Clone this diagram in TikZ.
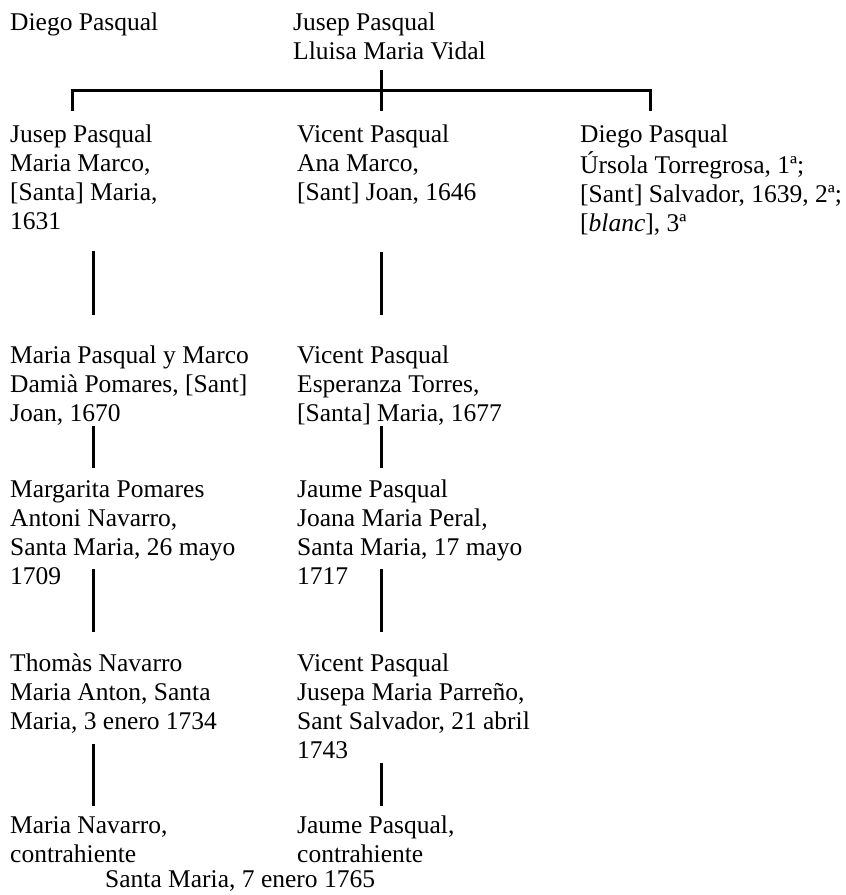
\documentclass[tikz,border=0pt]{standalone}
\usepackage{fontspec}
\setmainfont{Liberation Serif}
\newcommand{\persfont}{\fontsize{25.5}{29}\selectfont}
\begin{document}
\begin{tikzpicture}[x=1pt,y=-1pt,
  person/.style={anchor=north west, inner sep=0pt, align=left, font=\persfont},
  link/.style={line width=3pt}]
\useasboundingbox[fill=white] (0,0) rectangle (846,895);

% generation of the parents
\node[person] (dp0) at (10,9.7) {\strut Diego Pasqual};
\node[person] (jp0) at (293,9.7) {\strut Jusep Pasqual\\Lluisa Maria Vidal};

% first generation
\node[person] (a1) at (10,121.7) {\strut Jusep Pasqual\\Maria Marco,\\{[Santa]} Maria,\\1631};
\node[person] (b1) at (297,121.7) {\strut Vicent Pasqual\\Ana Marco,\\{[Sant]} Joan, 1646};
\node[person] (c1) at (580,121.7) {\strut Diego Pasqual\\Úrsola Torregrosa, 1ª;\\{[Sant]} Salvador, 1639, 2ª;\\{[\textit{blanc}]}, 3ª};

% second generation
\node[person] (a2) at (10,342.7) {\strut Maria Pasqual y Marco\\Damià Pomares, [Sant]\\Joan, 1670};
\node[person] (b2) at (297,342.7) {\strut Vicent Pasqual\\Esperanza Torres,\\{[Santa]} Maria, 1677};

% third generation
\node[person] (a3) at (10,476.7) {\strut Margarita Pomares\\Antoni Navarro,\\Santa Maria, 26 mayo\\1709};
\node[person] (b3) at (297,476.7) {\strut Jaume Pasqual\\Joana Maria Peral,\\Santa Maria, 17 mayo\\1717};

% fourth generation
\node[person] (a4) at (10,650.7) {\strut Thomàs Navarro\\Maria Anton, Santa\\Maria, 3 enero 1734};
\node[person] (b4) at (297,650.7) {\strut Vicent Pasqual\\Jusepa Maria Parreño,\\Sant Salvador, 21 abril\\1743};

% the two spouses
\node[person] (a5) at (10,812.7) {\strut Maria Navarro,\\contrahiente};
\node[person] (b5) at (297,812.7) {\strut Jaume Pasqual,\\contrahiente};
\node[person] (wed) at (105,866.7) {\strut Santa Maria, 7 enero 1765};

% bracket joining the parents to their three sons
\coordinate (stemTop) at (381,70);
\coordinate (stemBot) at (381,111);
\coordinate (barL) at (72,90);
\coordinate (barR) at (650,90);
\coordinate (tickL) at (72,111);
\coordinate (tickR) at (650,111);
\draw[link] (tickL) -- (barL) -- (barR) -- (tickR);
\draw[link] (stemTop) -- (stemBot);

% descent lines, left branch
\coordinate (a12s) at (93,251);  \coordinate (a12e) at (93,315);
\coordinate (a23s) at (93,426);  \coordinate (a23e) at (93,468);
\coordinate (a34s) at (93,569);  \coordinate (a34e) at (93,632);
\coordinate (a45s) at (93,744);  \coordinate (a45e) at (93,806);
\draw[link] (a12s) -- (a12e);
\draw[link] (a23s) -- (a23e);
\draw[link] (a34s) -- (a34e);
\draw[link] (a45s) -- (a45e);

% descent lines, middle branch
\coordinate (b12s) at (381,252); \coordinate (b12e) at (381,315);
\coordinate (b23s) at (381,426); \coordinate (b23e) at (381,468);
\coordinate (b34s) at (381,569); \coordinate (b34e) at (381,632);
\coordinate (b45s) at (381,763); \coordinate (b45e) at (381,806);
\draw[link] (b12s) -- (b12e);
\draw[link] (b23s) -- (b23e);
\draw[link] (b34s) -- (b34e);
\draw[link] (b45s) -- (b45e);
\end{tikzpicture}
\end{document}
